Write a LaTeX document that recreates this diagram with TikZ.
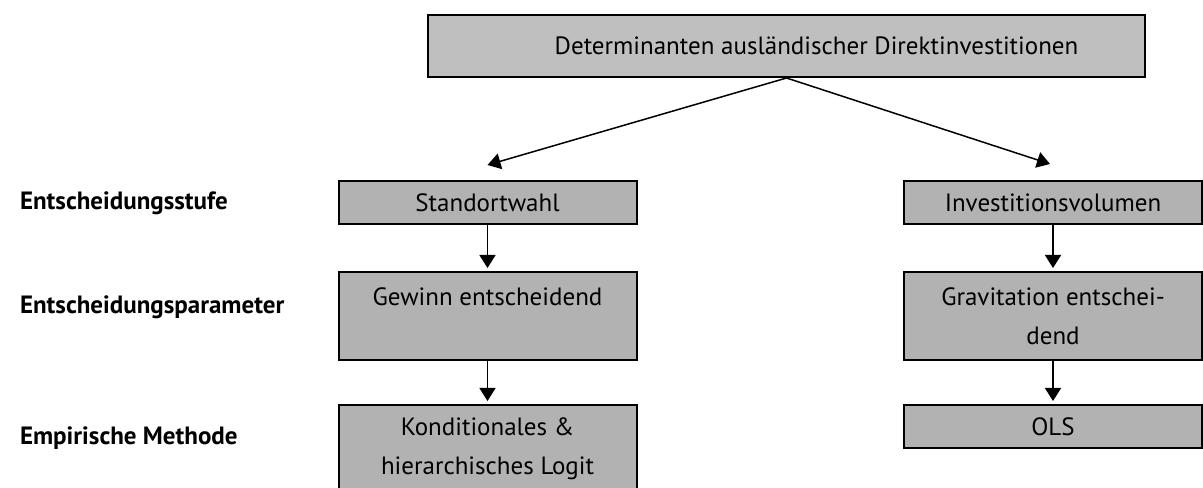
\documentclass[tikz,border=0pt]{standalone}
\usepackage{fontspec}
\setmainfont{PT Sans}
\usepackage{tikz}
\usetikzlibrary{arrows.meta,calc,positioning}

\definecolor{topgray}{gray}{0.75}
\definecolor{boxgray}{gray}{0.70}

\begin{document}
\begin{tikzpicture}[
  x=0.5pt, y=0.5pt,
  topbox/.style={draw, fill=topgray, line width=1pt, minimum width=358.5pt,
                 minimum height=31pt, font=\fontsize{12.5}{19}\selectfont},
  stufe/.style={draw, fill=boxgray, line width=1pt, minimum width=149pt,
                minimum height=21.5pt, align=center,
                font=\fontsize{12.5}{19.5}\selectfont},
  doppel/.style={stufe, minimum height=44pt},
  ebene/.style={anchor=west, font=\fontsize{12.5}{14}\selectfont\bfseries},
  >={Triangle[length=6.5pt,width=8pt]}
]
\useasboundingbox (0,0) rectangle (1203,487);
\clip (0,0) rectangle (1203,487);

% Boxes
\node[topbox] (det) at (786.5,441) {\hspace*{30pt}Determinanten ausländischer Direktinvestitionen};
\node[stufe]  (std) at (487.5,284.5) {Standortwahl};
\node[stufe]  (inv) at (1053,284.5)  {Investitionsvolumen};
\node[doppel] (gew) at (487.5,171)   {Gewinn entscheidend\\\mbox{}};
\node[doppel] (gra) at (1053,171)    {Gravitation entschei-\\dend};
\node[doppel] (kon) at (487.5,38)    {Konditionales \&\\hierarchisches Logit};
\node[stufe]  (ols) at (1053,60.5)   {OLS};

% Row labels on the left
\node[ebene] (l1) at (13,284) {Entscheidungsstufe};
\node[ebene] (l2) at (13,180) {Entscheidungsparameter};
\node[ebene] (l3) at (13,49)  {Empirische Methode};

% Branching arrows
\coordinate (lspitze) at ($(std.north)+(0,15)$);
\coordinate (rspitze) at ($(inv.north)+(-3,16)$);
\draw[->, line width=0.75pt] (det.south) -- (lspitze);
\draw[->, line width=0.75pt] (det.south) -- (rspitze);

% Vertical arrows
\foreach \von/\nach in {std/gew, gew/kon, inv/gra, gra/ols}{
  \draw[->, line width=0.75pt, shorten >=1.5pt] (\von.south) -- (\nach.north);
}
\end{tikzpicture}
\end{document}
